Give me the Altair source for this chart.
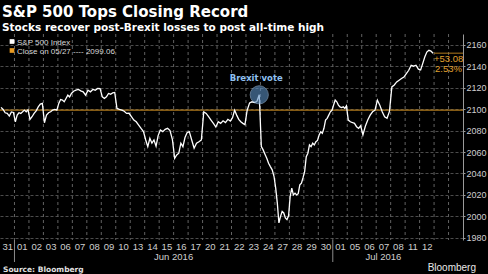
import altair as alt
import pandas as pd

# ---------------- data ----------------
day_labels = ["31", "01", "02", "03", "06", "07", "08", "09", "10", "13", "14", "15",
              "16", "17", "20", "21", "22", "23", "24", "27", "28", "29", "30",
              "01", "05", "06", "07", "08", "11", "12"]
month_labels = ["Jun 2016", "Jul 2016"]
month_first_day = [1, 23]
month_last_day = [22, 29]

intraday = [
    [2101.6, 2099.7, 2096.6, 2096.0, 2093.5, 2097.4, 2096.9],
    [2088.2, 2094.4, 2096.6, 2096.0, 2097.5, 2099.1, 2097.5, 2099.3],
    [2090.4, 2092.9, 2096.0, 2098.4, 2102.1, 2104.6, 2105.3],
    [2087.3, 2094.4, 2096.6, 2097.5, 2099.1, 2099.7, 2099.1],
    [2105.3, 2109.0, 2108.4, 2106.8, 2109.9, 2113.0, 2111.4, 2114.6],
    [2116.7, 2117.6, 2118.3, 2117.0, 2116.1, 2113.0],
    [2117.6, 2116.1, 2118.3, 2117.6, 2119.2, 2119.1],
    [2111.4, 2109.9, 2111.4, 2114.6, 2113.9, 2115.1, 2115.5],
    [2100.6, 2099.7, 2099.0, 2098.0, 2096.0, 2096.1],
    [2092.9, 2089.8, 2088.2, 2085.1, 2082.0, 2079.1],
    [2071.2, 2065.0, 2072.8, 2068.2, 2071.2, 2065.5, 2075.3],
    [2080.5, 2079.0, 2081.2, 2082.1, 2080.0, 2071.5],
    [2054.2, 2057.3, 2058.9, 2068.2, 2065.0, 2073.5, 2078.0],
    [2079.0, 2071.2, 2063.5, 2068.2, 2069.6, 2071.2],
    [2097.5, 2096.0, 2093.0, 2089.8, 2086.7, 2083.3],
    [2088.2, 2086.7, 2089.1, 2087.5, 2090.5, 2088.9],
    [2092.0, 2099.0, 2094.4, 2090.4, 2088.2, 2086.7, 2085.5],
    [2099.0, 2105.8, 2106.8, 2106.2, 2107.0, 2113.3],
    [2065.0, 2062.0, 2058.0, 2054.2, 2049.6, 2046.4, 2043.4, 2037.4],
    [2026.4, 2012.4, 1993.9, 2000.0, 2004.6, 2003.2, 1998.5, 1997.0, 2000.5],
    [2018.6, 2026.4, 2020.1, 2021.7, 2020.1, 2021.2, 2029.4, 2031.0, 2036.1],
    [2041.8, 2055.7, 2058.9, 2066.6, 2065.0, 2068.2, 2066.6, 2069.6, 2070.8],
    [2075.9, 2078.9, 2077.4, 2082.1, 2089.8, 2091.4, 2094.4, 2097.5, 2098.9],
    [2103.7, 2108.4, 2106.8, 2103.7, 2102.1, 2101.5, 2102.1, 2100.6, 2103.0],
    [2089.8, 2088.2, 2087.5, 2086.7, 2083.6, 2082.1, 2084.5],
    [2076.0, 2084.0, 2089.8, 2094.4, 2097.5, 2099.0],
    [2108.4, 2103.7, 2097.5, 2092.9, 2091.4, 2097.9],
    [2120.7, 2122.5, 2125.3, 2126.9, 2128.5, 2129.9],
    [2133.1, 2136.2, 2140.9, 2140.0, 2140.9, 2137.2],
    [2136.5, 2142.4, 2148.6, 2153.2, 2154.8, 2154.1, 2152.1],
]

prior_close = 2099.06
last_close = 2152.14
change_pts = "+53.08"
change_pct = "2.53%"
brexit_day = 17  # Jun 23
y_ticks = list(range(1980, 2161, 20))
total_slots = 32

title_text = "S&P 500 Tops Closing Record"
subtitle_text = "Stocks recover post-Brexit losses to post all-time high"
legend_names = ["S&P 500 Index", "Close on 05/27 ---- 2099.06"]
source_text = "Source: Bloomberg"
brand_text = "Bloomberg"

# ---------------- derived tables ----------------
rows = []
for i, vals in enumerate(intraday):
    n = len(vals)
    for k, v in enumerate(vals):
        rows.append({"t": i + (k + 0.5) / n, "price": v})
line_df = pd.DataFrame(rows)

grid_df = pd.DataFrame({"g": list(range(1, total_slots))})
n_b = len(intraday[brexit_day])
brexit_df = pd.DataFrame({"t": [brexit_day + (n_b - 0.5) / n_b],
                          "price": [intraday[brexit_day][-1]],
                          "label": ["Brexit vote"]})
base_df = pd.DataFrame({"price": [prior_close]})
end_df = pd.DataFrame({"t": [len(day_labels)], "t2": [total_slots], "price": [last_close],
                       "pts": [change_pts], "pct": [change_pct]})
month_df = pd.DataFrame({"mid": [(a + b + 1) / 2 for a, b in zip(month_first_day, month_last_day)],
                         "m": month_labels})
sep_df = pd.DataFrame({"s": month_first_day})

W, H = 463, 206
xs = alt.Scale(domain=[0, total_slots], nice=False, zero=False)
ys = alt.Scale(domain=[1978, 2170], nice=False, zero=False)

label_js = "[" + ",".join("'%s'" % d for d in day_labels) + "]"
x_axis = alt.Axis(values=[i + 0.5 for i in range(len(day_labels))],
                  labelExpr=label_js + "[floor(datum.value)]",
                  grid=False, domain=False, ticks=False, title=None,
                  labelColor="#cfcfcf", labelFont="Liberation Sans", labelFontSize=9.5,
                  labelPadding=1, labelFlush=False, labelOverlap=False)
y_axis = alt.Axis(values=y_ticks, orient="right", title=None, grid=True, format="d",
                  gridColor="#4c4c4c", gridDash=[3, 2], gridWidth=1,
                  domain=True, domainColor="#9a9a9a", ticks=True, tickColor="#9a9a9a",
                  tickSize=2, labelColor="#cfcfcf", labelFont="Liberation Sans",
                  labelFontSize=9, labelPadding=1, labelFlush=False)

X = lambda f: alt.X(f, scale=xs, axis=x_axis)
Y = lambda f: alt.Y(f, scale=ys, axis=y_axis)

vgrid = alt.Chart(grid_df).mark_rule(color="#626262", strokeDash=[3, 3], strokeWidth=1).encode(
    x=X("g:Q")
)

base_rule = alt.Chart(base_df).mark_rule(color="#b07a1c", strokeWidth=1.2).encode(
    y=Y("price:Q")
)

line = alt.Chart(line_df).mark_line(color="#ffffff", strokeWidth=1.3, interpolate="linear").encode(
    x=X("t:Q"), y=Y("price:Q"),
)

end_rule = alt.Chart(end_df).mark_rule(color="#b07a1c", strokeWidth=1).encode(
    x=X("t:Q"), x2="t2:Q", y=Y("price:Q"),
)
end_pts = alt.Chart(end_df).mark_text(color="#e0a12e", font="Liberation Sans", fontSize=9.5,
                                      align="center", baseline="middle", dy=6).encode(
    x=X("mid:Q"), y=Y("price:Q"), text="pts:N",
).transform_calculate(mid="(datum.t + datum.t2) / 2")
end_pct = alt.Chart(end_df).mark_text(color="#e0a12e", font="Liberation Sans", fontSize=9.5,
                                      align="center", baseline="middle", dy=16).encode(
    x=X("mid:Q"), y=Y("price:Q"), text="pct:N",
).transform_calculate(mid="(datum.t + datum.t2) / 2")

brexit_pt = alt.Chart(brexit_df).mark_point(shape="circle", filled=True, size=330,
                                           color="#5b8fc4", opacity=0.6,
                                           stroke="#9fc6ee", strokeWidth=1).encode(
    x=X("t:Q"), y=Y("price:Q"),
)
brexit_txt = alt.Chart(brexit_df).mark_text(color="#8fc0f0", font="DejaVu Sans", fontSize=8.5,
                                           fontWeight="bold", dy=-17, dx=-3).encode(
    x=X("t:Q"), y=Y("price:Q"), text="label:N",
)

months = alt.Chart(month_df).mark_text(color="#cfcfcf", font="Liberation Sans", fontSize=9.5,
                                       baseline="middle").encode(
    x=X("mid:Q"), y=alt.value(H + 17), text="m:N",
)
seps = alt.Chart(sep_df).mark_rule(color="#8a8a8a", strokeWidth=1).encode(
    x=X("s:Q"), y=alt.value(H), y2=alt.value(H + 22),
)

def txt(s, x, y, size, color, weight="normal", align="left", font="DejaVu Sans"):
    return alt.Chart(pd.DataFrame({"s": [s]})).mark_text(
        font=font, fontSize=size, fontWeight=weight, color=color, align=align,
        baseline="alphabetic").encode(x=alt.value(x), y=alt.value(y), text="s:N")

title = txt(title_text, 2, -17, 15, "#ffffff", "bold")
subtitle = txt(subtitle_text, 2, -3.5, 10.5, "#ffffff", "bold")
leg1 = txt(legend_names[0], 17, 10.5, 8, "#d8d8d8", font="Liberation Sans")
leg2 = txt(legend_names[1], 17, 19.5, 8, "#d8d8d8", font="Liberation Sans")
source = txt(source_text, 3, H + 32, 7.5, "#e0e0e0", "bold")
brand = txt(brand_text, W + 13, H + 31, 10, "#e8e8e8", align="right", font="Liberation Sans")

sq1 = alt.Chart(pd.DataFrame({"s": [legend_names[0]]})).mark_square(size=22, color="#ffffff", opacity=1).encode(
    x=alt.value(12), y=alt.value(7.5))
sq2 = alt.Chart(pd.DataFrame({"s": [legend_names[1]]})).mark_square(size=22, color="#e89a22", opacity=1).encode(
    x=alt.value(12), y=alt.value(16.5))

chart = alt.layer(
    vgrid, base_rule, line, end_rule, end_pts, end_pct, brexit_pt, brexit_txt,
    months, seps, title, subtitle, leg1, leg2, sq1, sq2, source, brand
).properties(
    width=W, height=H,
    autosize=alt.AutoSizeParams(type="none"),
    padding={"left": 0, "right": 25, "top": 34, "bottom": 34},
    background="#000000",
).configure_view(stroke=None)

chart.save("out.html", embed_options={"renderer": "svg", "actions": False})
